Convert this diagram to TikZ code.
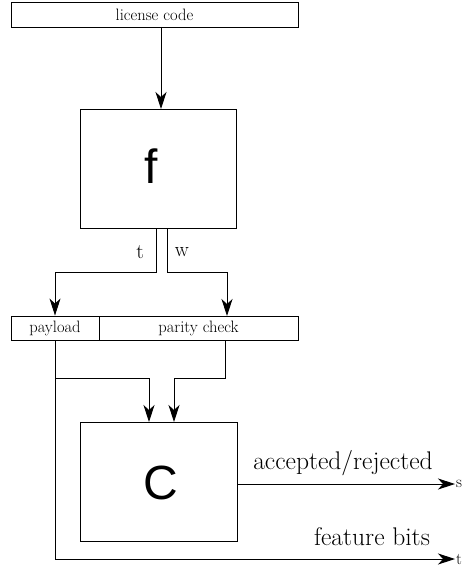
\documentclass[tikz,border=0pt]{standalone}
\usepackage{fontspec}
\newfontfamily\sansbig{Liberation Sans}
\usetikzlibrary{arrows.meta}
\begin{document}
\begin{tikzpicture}[x=1pt,y=-1pt,
  box/.style={draw,line width=0.9pt,inner sep=0pt,anchor=center},
  arr/.style={line width=0.9pt,-{Stealth[length=17pt,width=11pt,inset=5pt]}},
  small/.style={font=\fontsize{16.5}{19}\selectfont},
  mid/.style={font=\fontsize{21}{24}\selectfont},
  big/.style={font=\fontsize{25.5}{29}\selectfont},
  huge/.style={font=\sansbig\fontsize{48}{54}\selectfont}]
\useasboundingbox (0,0) rectangle (466,572);
% boxes
\node[box,small,minimum width=287pt,minimum height=25pt] (lic) at (154.5,14.5) {license code};
\node[box,minimum width=156pt,minimum height=119pt] (fbox) at (158,168.5) {};
\node[huge] (flab) at (151,166) {f};
\node[box,small,minimum width=88pt,minimum height=24pt] (pay) at (55,328) {payload};
\node[box,small,minimum width=199pt,minimum height=24pt] (par) at (198.5,328) {parity check};
\node[box,minimum width=157pt,minimum height=119pt] (cbox) at (158.5,481.5) {};
\node[huge] (clab) at (160.5,483) {C};
% coordinates
\coordinate (licout) at (161,27);
\coordinate (fin) at (161,109);
\coordinate (tout) at (156,228);
\coordinate (wout) at (167,228);
\coordinate (tbend) at (156,272);
\coordinate (wbend) at (167,272);
\coordinate (pin) at (227,316);
\coordinate (parout) at (225,340);
\coordinate (pbend) at (55,378);
\coordinate (rbend) at (225,378);
\coordinate (cin1) at (149,422);
\coordinate (cin2) at (174,422);
\coordinate (sout) at (237,484);
\coordinate (send) at (455,484);
\coordinate (tend) at (455,559);
% connectors
\draw[arr] (licout) -- (fin);
\draw[arr] (tout) -- (tbend) -| (pay.north);
\draw[arr] (wout) -- (wbend) -| (pin);
\draw[arr] (pbend) -| (cin1);
\draw[arr] (parout) -- (rbend) -| (cin2);
\draw[arr] (pay.south) |- (tend);
\draw[arr] (sout) -- (send);
% labels
\node[mid] (tl) at (140,252) {t};
\node[mid] (wl) at (182,252) {w};
\node[big] (acc) at (343,463) {accepted/rejected};
\node[big] (feat) at (372,537) {feature bits};
\node[small,anchor=west,inner sep=1pt] (sl) at (send) {s};
\node[small,anchor=west,inner sep=1pt] (tl2) at (tend) {t};
\end{tikzpicture}
\end{document}
